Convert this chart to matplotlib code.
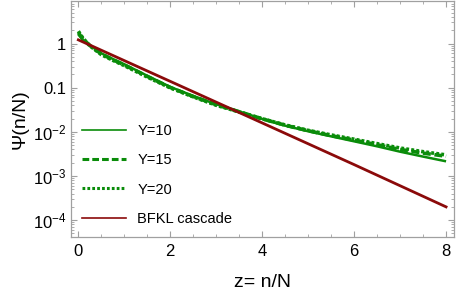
import matplotlib

matplotlib.use("Agg")
import matplotlib.pyplot as plt
from matplotlib.lines import Line2D
from matplotlib.ticker import FixedLocator, FixedFormatter, LogLocator, MultipleLocator

plt.rcParams["font.family"] = ["Liberation Sans", "DejaVu Sans"]
plt.rcParams["mathtext.fontset"] = "custom"
plt.rcParams["mathtext.rm"] = "Liberation Sans"
plt.rcParams["mathtext.it"] = "Liberation Sans:italic"

GREEN = "#0a8c0a"
DARK_RED = "#8b0a0a"
FRAME = "#a0a0a0"

# z = n/N
z = [0.0, 0.1, 0.25, 0.5, 0.75, 1.0, 1.5, 2.0, 2.5, 3.0, 3.5, 4.0, 4.5, 5.0, 5.5, 6.0, 6.5, 7.0, 7.5, 8.0]
psi_y10 = [1.6, 1.2, 0.91, 0.60, 0.447, 0.339, 0.186, 0.104, 0.065, 0.042, 0.029, 0.0196, 0.0138,
           0.0103, 0.0079, 0.0061, 0.0047, 0.00355, 0.00275, 0.00215]
psi_y15 = [1.75, 1.27, 0.90, 0.58, 0.43, 0.326, 0.18, 0.101, 0.063, 0.041, 0.0285, 0.0197, 0.0141,
           0.0106, 0.0082, 0.0065, 0.0051, 0.0040, 0.0033, 0.0028]
psi_y20 = [1.9, 1.32, 0.89, 0.56, 0.417, 0.316, 0.174, 0.099, 0.062, 0.040, 0.0282, 0.0198, 0.0143,
           0.0108, 0.0085, 0.0068, 0.0054, 0.0043, 0.00355, 0.0030]

z_bfkl = [0.0, 2.0, 4.0, 6.0, 8.0]
psi_bfkl = [1.21, 0.139, 0.0159, 0.00181, 2.0e-4]

y_ticks = [1, 0.1, 1e-2, 1e-3, 1e-4]
y_tick_labels = ["1", "0.1", "$10^{-2}$", "$10^{-3}$", "$10^{-4}$"]

fig = plt.figure(figsize=(4.58, 2.92), dpi=100)
ax = fig.add_axes([0.155, 0.189, 0.836, 0.809])

ax.plot(z, psi_y10, color=GREEN, lw=1.8, solid_capstyle="butt")
ax.plot(z, psi_y15, color=GREEN, lw=2.6, ls=(0, (2.2, 1.0)))
ax.plot(z, psi_y20, color=GREEN, lw=2.6, ls=(0, (0.8, 0.6)))
ax.plot(z_bfkl, psi_bfkl, color=DARK_RED, lw=2.0)

ax.set_yscale("log")
ax.set_xlim(-0.16, 8.17)
ax.set_ylim(10 ** -4.377, 10 ** 0.972)

ax.xaxis.set_major_locator(MultipleLocator(2))
ax.xaxis.set_minor_locator(MultipleLocator(0.5))
ax.yaxis.set_major_locator(FixedLocator(y_ticks))
ax.yaxis.set_major_formatter(FixedFormatter(y_tick_labels))
ax.yaxis.set_minor_locator(LogLocator(base=10, subs=range(2, 10)))

ax.tick_params(which="both", direction="in", top=True, right=True, color=FRAME, labelsize=12)
ax.tick_params(which="major", length=4, width=0.8)
ax.tick_params(which="minor", length=2, width=0.6)
ax.tick_params(axis="x", pad=5)
for sp in ax.spines.values():
    sp.set_color(FRAME)
    sp.set_linewidth(0.9)

ax.set_xlabel("z= n/N", fontsize=14, labelpad=11)
ax.set_ylabel("Ψ(n/N)", fontsize=14, labelpad=3)

handles = [
    Line2D([], [], color=GREEN, lw=1.2),
    Line2D([], [], color=GREEN, lw=2.2, ls=(0, (2.2, 1.0))),
    Line2D([], [], color=GREEN, lw=2.2, ls=(0, (0.9, 0.7))),
    Line2D([], [], color=DARK_RED, lw=1.2),
]
ax.legend(handles, ["Y=10", "Y=15", "Y=20", "BFKL cascade"], loc="lower left",
          bbox_to_anchor=(0.0, 0.0), frameon=False, fontsize=10.5,
          handlelength=3.0, handletextpad=0.8, labelspacing=1.05, borderaxespad=0.35)

fig.savefig("out.png", dpi=100)
